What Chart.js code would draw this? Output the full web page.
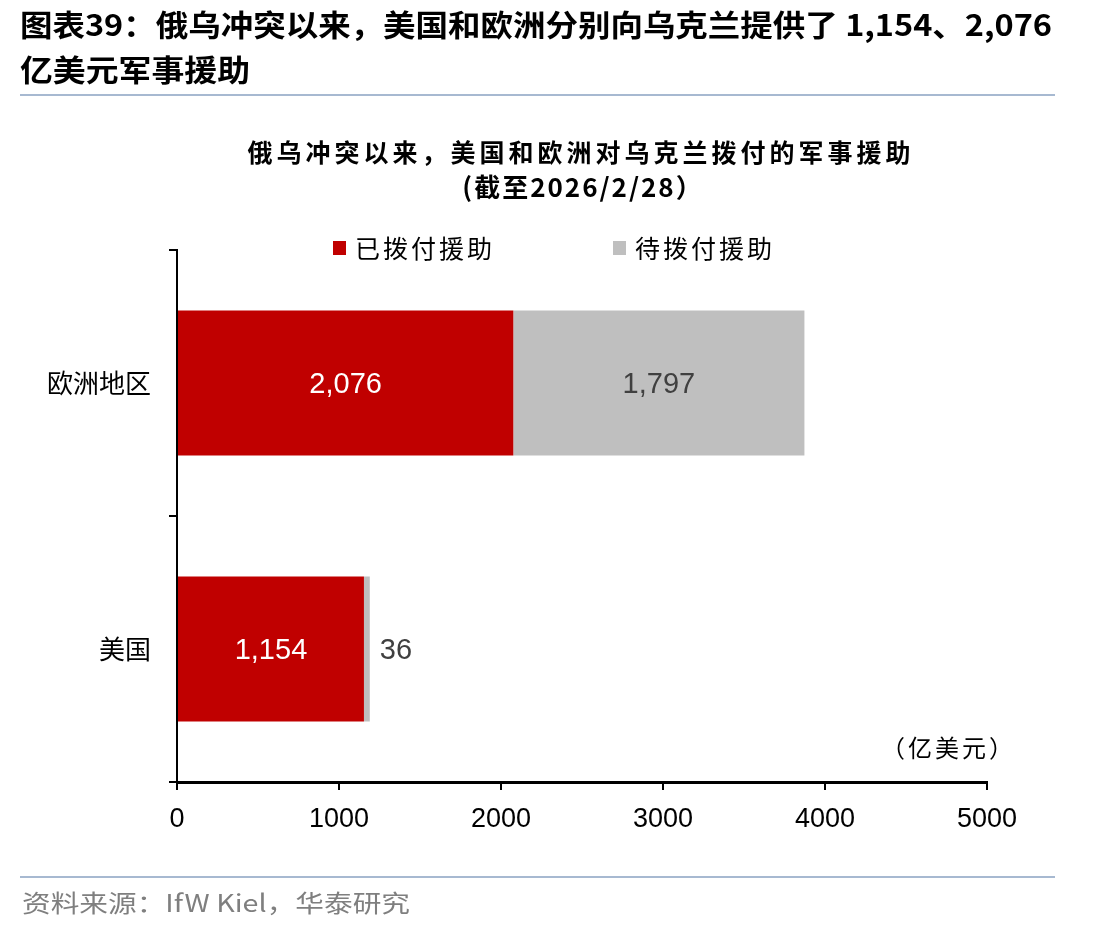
<!DOCTYPE html>
<html lang="zh">
<head>
    <meta charset="UTF-8">
    <title>俄乌冲突以来，美国和欧洲对乌克兰拨付的军事援助</title>
    <script src="https://cdn.jsdelivr.net/npm/chart.js"></script>
    <style>
        body { margin: 0; background: #fff; }
        canvas { display: block; }
    </style>
</head>
<body>
    <canvas id="aidChart" width="1112" height="931"></canvas>

    <script>
        // Data
        const regions = ['欧洲地区', '美国'];
        const allocated = [2076, 1154];   // 已拨付援助
        const pending = [1797, 36];       // 待拨付援助
        const xTicks = [0, 1000, 2000, 3000, 4000, 5000];

        const RED = '#C00000';
        const GREY = '#BFBFBF';
        const CJK = '"Noto Sans CJK SC", sans-serif';

        // Draw text horizontally squeezed/stretched to a given width
        function fitText(ctx, text, x, y, width) {
            const w = ctx.measureText(text).width;
            ctx.save();
            ctx.translate(x, y);
            ctx.scale(width / w, 1);
            ctx.fillText(text, 0, 0);
            ctx.restore();
        }

        // Page header/footer, chart title, legend, unit note
        const decorations = {
            id: 'decorations',
            afterDraw(chart) {
                const ctx = chart.ctx;
                ctx.save();
                ctx.textBaseline = 'middle';
                ctx.fillStyle = '#000';

                // page title
                ctx.font = 'bold 30px ' + CJK;
                ctx.textAlign = 'left';
                fitText(ctx, '图表39：俄乌冲突以来，美国和欧洲分别向乌克兰提供了 1,154、2,076', 20, 25, 1032);
                fitText(ctx, '亿美元军事援助', 20, 70, 230);

                // rules
                ctx.strokeStyle = '#A7B9D1';
                ctx.lineWidth = 2;
                ctx.beginPath();
                ctx.moveTo(20, 95); ctx.lineTo(1055, 95);
                ctx.moveTo(20, 877); ctx.lineTo(1055, 877);
                ctx.stroke();

                // chart title
                ctx.font = 'bold 25px ' + CJK;
                ctx.textAlign = 'center';
                ctx.letterSpacing = '4px';
                ctx.fillText('俄乌冲突以来，美国和欧洲对乌克兰拨付的军事援助', 581, 152);
                ctx.font = 'bold 26px ' + CJK;
                ctx.letterSpacing = '2px';
                ctx.fillText('(截至2026/2/28）', 583, 187);

                // legend
                ctx.font = '25px ' + CJK;
                ctx.textAlign = 'left';
                ctx.letterSpacing = '3px';
                const legendX = [333, 613];
                chart.data.datasets.forEach((ds, i) => {
                    ctx.fillStyle = ds.backgroundColor;
                    ctx.fillRect(legendX[i], 241, 13, 14);
                    ctx.fillStyle = '#000';
                    ctx.fillText(ds.label, legendX[i] + 22, 248);
                });

                // unit note
                ctx.textAlign = 'right';
                ctx.letterSpacing = '3px';
                ctx.font = '24px ' + CJK;
                ctx.fillText('（亿美元）', 1016, 748);

                // source
                ctx.letterSpacing = '0px';
                ctx.textAlign = 'left';
                ctx.fillStyle = '#7F7F7F';
                ctx.font = '24px ' + CJK;
                fitText(ctx, '资料来源：IfW Kiel，华泰研究', 22, 903, 388);
                ctx.restore();
            }
        };

        // Value labels on the bars
        const barLabels = {
            id: 'barLabels',
            afterDatasetsDraw(chart) {
                const ctx = chart.ctx;
                ctx.save();
                ctx.font = '29px "Liberation Sans", Arial, sans-serif';
                ctx.textBaseline = 'middle';
                chart.data.datasets.forEach((ds, di) => {
                    chart.getDatasetMeta(di).data.forEach((bar, i) => {
                        const text = ds.data[i].toLocaleString('en-US');
                        const left = Math.min(bar.x, bar.base);
                        const width = Math.abs(bar.x - bar.base);
                        if (width > 70) {
                            ctx.textAlign = 'center';
                            ctx.fillStyle = di === 0 ? '#fff' : '#404040';
                            ctx.fillText(text, left + width / 2, bar.y + 2);
                        } else {
                            ctx.textAlign = 'left';
                            ctx.fillStyle = '#404040';
                            ctx.fillText(text, left + width + 10, bar.y + 2);
                        }
                    });
                });
                ctx.restore();
            }
        };

        new Chart(document.getElementById('aidChart'), {
            type: 'bar',
            data: {
                labels: regions,
                datasets: [
                    { label: '已拨付援助', data: allocated, backgroundColor: RED },
                    { label: '待拨付援助', data: pending, backgroundColor: GREY }
                ]
            },
            options: {
                indexAxis: 'y',
                responsive: false,
                animation: false,
                devicePixelRatio: 1,
                categoryPercentage: 1,
                barPercentage: 0.545,
                layout: { padding: { left: 0, right: 125, top: 250, bottom: 89 } },
                plugins: {
                    legend: { display: false },
                    title: { display: false },
                    tooltip: { enabled: false }
                },
                scales: {
                    x: {
                        stacked: true,
                        min: 0,
                        max: 5000,
                        afterBuildTicks: axis => { axis.ticks = xTicks.map(v => ({ value: v })); },
                        afterFit: axis => { axis.height = 60; },
                        grid: { drawOnChartArea: false, color: '#000', lineWidth: 2, tickLength: 8 },
                        border: { color: '#000', width: 3 },
                        ticks: {
                            color: '#000',
                            padding: 13,
                            maxRotation: 0,
                            callback: v => String(v),
                            font: { family: '"Liberation Sans", Arial, sans-serif', size: 27 }
                        }
                    },
                    y: {
                        stacked: true,
                        afterFit: axis => { axis.width = 177; },
                        grid: { drawOnChartArea: false, color: '#000', lineWidth: 2, tickLength: 8, offset: true },
                        border: { color: '#000', width: 2 },
                        ticks: {
                            color: '#000',
                            padding: 18,
                            font: { family: CJK, size: 26 }
                        }
                    }
                }
            },
            plugins: [decorations, barLabels]
        });
    </script>
</body>
</html>
